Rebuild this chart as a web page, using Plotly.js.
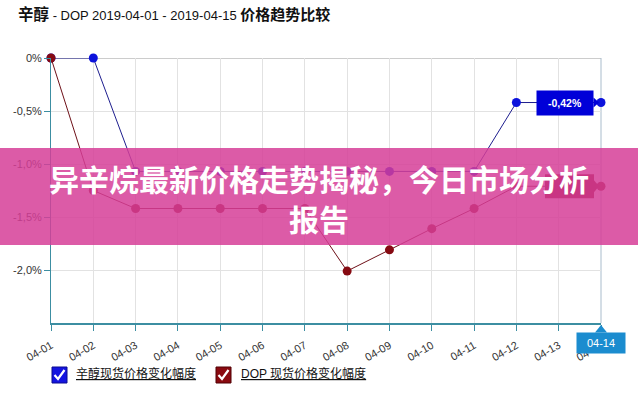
<!DOCTYPE html>
<html><head><meta charset="utf-8">
<script src="https://cdn.plot.ly/plotly-3.0.1.min.js"></script>
<style>html,body{margin:0;padding:0;background:#fff}#chart{width:638px;height:396px}</style>
</head><body><div id="chart"></div>
<script>
const dates = ['04-01','04-02','04-03','04-04','04-05','04-06','04-07','04-08','04-09','04-10','04-11','04-12','04-13','04-14'];
const octanol = [0, 0, -1.07, -1.07, -1.07, -1.07, -1.07, -1.07, -1.07, -1.07, -1.07, -0.42, -0.42, -0.42];
const dop = [0, -1.25, -1.42, -1.42, -1.42, -1.42, -1.42, -2.01, -1.81, -1.61, -1.42, -1.21, -1.21, -1.21];
const yTickVals = [0, -0.5, -1, -1.5, -2];
const yTickText = ['0%', '-0,5%', '-1,0%', '-1,5%', '-2,0%'];
const seriesNames = ['辛醇现货价格变化幅度', 'DOP 现货价格变化幅度'];
const bannerLines = ['异辛烷最新价格走势揭秘，今日市场分析', '报告'];

const fontFam = '"Liberation Sans", Arial, "Noto Sans CJK SC", sans-serif';
const last = dates.length - 1;
const fmt = v => v.toFixed(2).replace('.', ',') + '%';

const traces = [
  {x: dates, y: octanol, type: 'scatter', mode: 'lines+markers', cliponaxis: false,
   line: {color: '#1e1e8e', width: 1}, marker: {color: '#0c12dc', size: 9}, showlegend: false, hoverinfo: 'skip'},
  {x: dates, y: dop, type: 'scatter', mode: 'lines+markers', cliponaxis: false,
   line: {color: '#6e1018', width: 1}, marker: {color: '#860a12', size: 9}, showlegend: false, hoverinfo: 'skip'}
];

const W = 550, H = 265, L = 51, T = 58;
const px = x => (x - L) / W;
const py = y => (T + H - y) / H;
const check = 'M-5,0 L-1.5,-4 L5,5';

const shapes = [
  {type: 'line', xref: 'paper', yref: 'y', x0: 0, x1: 1, y0: 0, y1: 0, line: {color: '#9a9a9a', width: 1}, layer: 'below'},
  {type: 'line', xref: 'paper', yref: 'paper', x0: 1, x1: 1, y0: 0, y1: 1, line: {color: '#a9bccc', width: 1}, layer: 'below'},
  // DOP value label (under banner)
  {type: 'rect', xref: 'x', yref: 'y', xsizemode: 'pixel', ysizemode: 'pixel', xanchor: last, yanchor: dop[last],
   x0: -56, x1: -7, y0: -12, y1: 12, fillcolor: '#800010', line: {width: 0}, layer: 'above'},
  {type: 'path', xref: 'x', yref: 'y', xsizemode: 'pixel', ysizemode: 'pixel', xanchor: last, yanchor: dop[last],
   path: 'M-7,-6 L-2,0 L-7,6 Z', fillcolor: '#800010', line: {width: 0}, layer: 'above'},
  // banner
  {type: 'rect', xref: 'paper', yref: 'paper', x0: px(0), x1: px(638), y0: py(245), y1: py(148),
   fillcolor: 'rgba(214,62,152,0.85)', line: {width: 0}, layer: 'above'},
  // Octanol value label nub
  {type: 'path', xref: 'x', yref: 'y', xsizemode: 'pixel', ysizemode: 'pixel', xanchor: last, yanchor: octanol[last],
   path: 'M-7.5,-5 L-2,0 L-7.5,5 Z', fillcolor: '#0000d8', line: {width: 0}, layer: 'above'},
  // x tooltip nub
  {type: 'path', xref: 'paper', yref: 'paper', xsizemode: 'pixel', ysizemode: 'pixel', xanchor: 1, yanchor: 0,
   path: 'M-6,-9.5 L0,-2 L6,-9.5 Z', fillcolor: '#1b8ccf', line: {width: 0}, layer: 'above'},
  // legend boxes
  {type: 'rect', xref: 'paper', yref: 'paper', x0: px(52), x1: px(67), y0: py(383), y1: py(367), fillcolor: '#1414e0', line: {color: '#0a0a90', width: 1}},
  {type: 'rect', xref: 'paper', yref: 'paper', x0: px(216), x1: px(231), y0: py(383), y1: py(367), fillcolor: '#8a0a10', line: {color: '#500005', width: 1}},
  {type: 'path', xref: 'paper', yref: 'paper', xsizemode: 'pixel', ysizemode: 'pixel', xanchor: px(59.5), yanchor: py(375),
   path: check, line: {color: '#fff', width: 2.2}},
  {type: 'path', xref: 'paper', yref: 'paper', xsizemode: 'pixel', ysizemode: 'pixel', xanchor: px(223.5), yanchor: py(375),
   path: check, line: {color: '#fff', width: 2.2}}
];

const annotations = [
  {xref: 'x', yref: 'y', x: last, y: octanol[last], xanchor: 'right', yanchor: 'middle', xshift: -7,
   text: '<b>' + fmt(octanol[last]) + '</b>', showarrow: false, bgcolor: '#0000d8', borderpad: 0, width: 56, height: 24,
   font: {color: '#fff', size: 10.5, family: fontFam}},
  {xref: 'x', yref: 'paper', x: last, y: 0, xanchor: 'center', yanchor: 'top', yshift: -9,
   text: dates[last], showarrow: false, bgcolor: '#1b8ccf', borderpad: 0, width: 48, height: 20,
   font: {color: '#fff', size: 11, family: fontFam}},
  {xref: 'paper', yref: 'paper', x: px(74), y: py(375), yshift: -8, xanchor: 'left', text: '<span style="text-decoration:underline">' + seriesNames[0] + '</span>', showarrow: false, font: {color: '#111', size: 12, family: fontFam}},
  {xref: 'paper', yref: 'paper', x: px(239), y: py(375), yshift: -8, xanchor: 'left', text: '<span style="text-decoration:underline">' + seriesNames[1] + '</span>', showarrow: false, font: {color: '#111', size: 12, family: fontFam}},
  {xref: 'paper', yref: 'paper', x: px(319), y: py(178), text: '<b>' + bannerLines[0] + '</b>', showarrow: false, font: {color: '#fff', size: 30, family: '"Noto Sans CJK SC", sans-serif'}},
  {xref: 'paper', yref: 'paper', x: px(319), y: py(218), text: '<b>' + bannerLines[1] + '</b>', showarrow: false, font: {color: '#fff', size: 30, family: '"Noto Sans CJK SC", sans-serif'}}
];

const layout = {
  width: 638, height: 396,
  margin: {l: 51, r: 37, t: 58, b: 73, pad: 0},
  paper_bgcolor: '#fff', plot_bgcolor: '#fff',
  font: {family: fontFam, color: '#222'},
  title: {text: '<b><span style="font-size:15.5px">辛醇</span></b> - DOP 2019-04-01 - 2019-04-15 <b><span style="font-size:15px">价格趋势比较</span></b>',
          xref: 'container', yref: 'container', x: 18/638, xanchor: 'left', y: 1 - 15/396, yanchor: 'middle',
          font: {size: 13, color: '#111', family: fontFam}},
  showlegend: false,
  xaxis: {type: 'category', range: [0, last], tickangle: -30, showgrid: true, gridcolor: '#e2e2e2',
          showline: true, linecolor: '#3c8ea2', linewidth: 2, ticks: 'outside', ticklen: 6, tickcolor: '#3c8ea2',
          ticklabelstandoff: 4,
          zeroline: false, tickfont: {size: 11, color: '#333'}, automargin: false, fixedrange: true},
  yaxis: {range: [-2.5, 0], tickvals: yTickVals, ticktext: yTickText, showgrid: true, gridcolor: '#e2e2e2',
          showline: true, linecolor: '#3c8ea2', linewidth: 1, ticks: 'outside', ticklen: 6, tickcolor: '#3c8ea2',
          zeroline: false, tickfont: {size: 11, color: '#333'}, automargin: false, fixedrange: true},
  shapes: shapes, annotations: annotations
};

Plotly.newPlot('chart', traces, layout, {displayModeBar: false, staticPlot: true});
</script></body></html>
